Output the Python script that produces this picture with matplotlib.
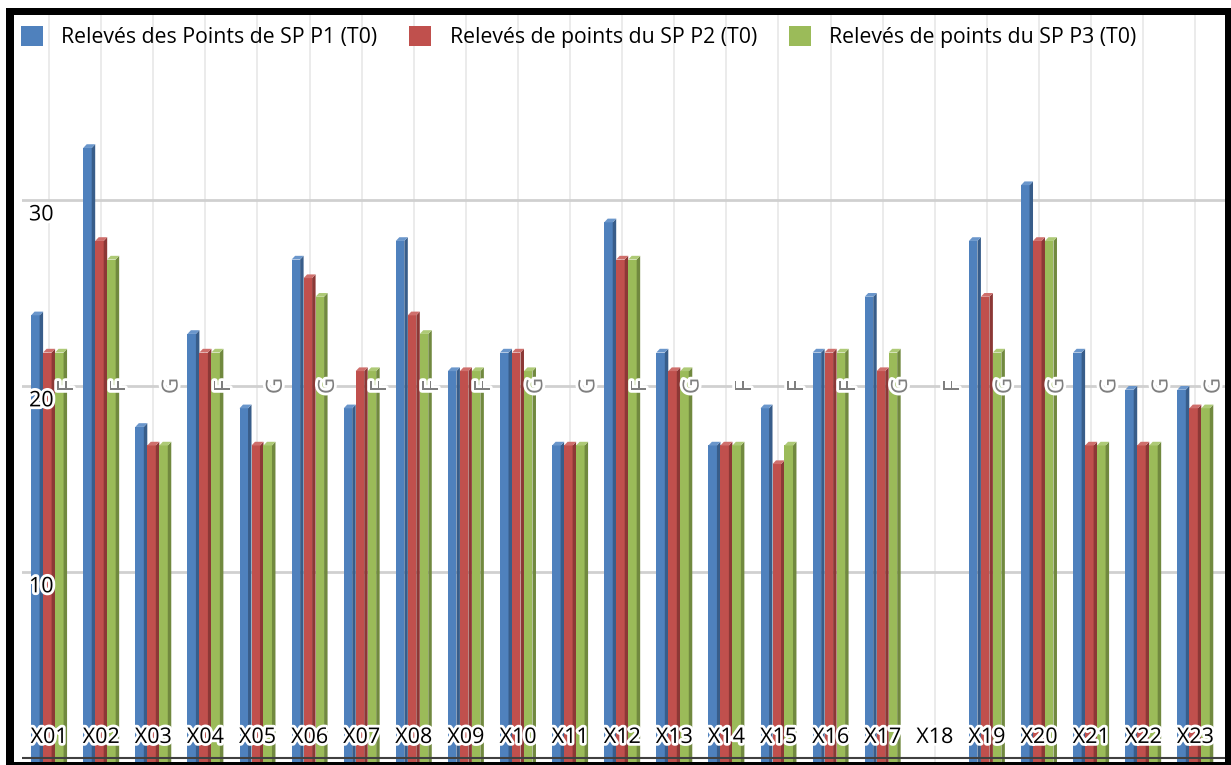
import numpy as np
import matplotlib.pyplot as plt
from matplotlib.patches import Patch, Polygon, Rectangle
import matplotlib.patheffects as pe

plt.rcParams['font.family'] = ['Open Sans', 'DejaVu Sans']

""" Data """
categories = ["X%02d" % i for i in range(1, 24)]
p1 = [24, 33, 18, 23, 19, 27, 19, 28, 21, 22, 17, 29, 22, 17, 19, 22, 25, np.nan, 28, 31, 22, 20, 20]
p2 = [22, 28, 17, 22, 17, 26, 21, 24, 21, 22, 17, 27, 21, 17, 16, 22, 21, np.nan, 25, 28, 17, 17, 19]
p3 = [22, 27, 17, 22, 17, 25, 21, 23, 21, 21, 17, 27, 21, 17, 17, 22, 22, np.nan, 22, 28, 17, 17, 19]
flags = ["F", "F", "G", "F", "G", "G", "F", "F", "F", "G", "G", "F", "G", "F", "F", "F", "G",
         "F", "G", "G", "G", "G", "G"]
series_names = ["Relevés des Points de SP P1 (T0)",
                "Relevés de points du SP P2 (T0)",
                "Relevés de points du SP P3 (T0)"]

""" Style """
front = ["#4F81BD", "#C0504D", "#9BBB59"]
side = ["#385D8A", "#8C3836", "#71893F"]
top = ["#6A96CB", "#CF6F6C", "#AECA76"]

W, H = 1231, 765
fig = plt.figure(figsize=(W / 100, H / 100), dpi=100)
ax = fig.add_axes([22 / W, 3 / H, (1225 - 22) / W, (762 - 15) / H])

x = np.arange(len(categories))
slot = 0.23
fw = 0.163
sw = slot - fw
dy = 0.2
floor = -0.22

for k, vals in enumerate([p1, p2, p3]):
    vals = np.array(vals, dtype=float)
    xl = x - 0.345 + k * slot
    ax.bar(xl, vals - dy - floor, bottom=floor, width=fw, align="edge",
           color=front[k], zorder=3, linewidth=0)
    for xi, v in zip(xl, vals):
        if np.isnan(v):
            continue
        xr = xi + fw
        ax.add_patch(Polygon([(xr, floor), (xr, v - dy), (xr + sw, v), (xr + sw, floor)],
                             closed=True, color=side[k], lw=0, zorder=3))
        ax.add_patch(Polygon([(xi, v - dy), (xr, v - dy), (xr + sw, v), (xi + sw, v)],
                             closed=True, color=top[k], lw=0, zorder=3))

ax.set_xlim(-0.52, 22.57)
ax.set_ylim(floor, 39.95)

for xi in x:
    ax.axvline(xi, color="#e8e8e8", lw=1.2, zorder=1)
for yv in [10, 20, 30]:
    ax.axhline(yv, color="#d0d0d0", lw=2, zorder=1)
ax.axhline(0, color="#404040", lw=1.5, zorder=4)

halo = [pe.withStroke(linewidth=4, foreground="white")]
for xi, c in zip(x, categories):
    ax.text(xi, 1.1, c, ha="center", va="center", fontsize=15.5, color="black",
            path_effects=halo, zorder=6)
for xi, f in zip(x, flags):
    ax.text(xi + 0.36, 20, f, ha="center", va="center", fontsize=16, color="#7f7f7f",
            rotation=90, path_effects=halo, zorder=6)
for yv in [10, 20, 30]:
    ax.text(-0.15, yv - 0.8, str(yv), ha="center", va="center", fontsize=15.5,
            color="black", path_effects=halo, zorder=6)

ax.set_xticks([])
ax.set_yticks([])
for s in ax.spines.values():
    s.set_visible(False)

handles = [Patch(facecolor=c, edgecolor="none") for c in front]
ax.legend(handles, series_names, loc="center left", bbox_to_anchor=(-0.001, 0.970),
          ncol=3, frameon=False, fontsize=15.3, handlelength=1.05, handleheight=1.05,
          handletextpad=0.85, columnspacing=1.5, borderpad=0, borderaxespad=0)

# black frame around the picture
for (x0, y0, w, h) in [(6, 8, 8, 754), (6, 8, 1225, 7), (1225, 8, 6, 757), (6, 762, 1225, 3)]:
    fig.add_artist(Rectangle((x0 / W, 1 - (y0 + h) / H), w / W, h / H,
                             transform=fig.transFigure, color="black", lw=0))

fig.savefig("out.png", dpi=100)
